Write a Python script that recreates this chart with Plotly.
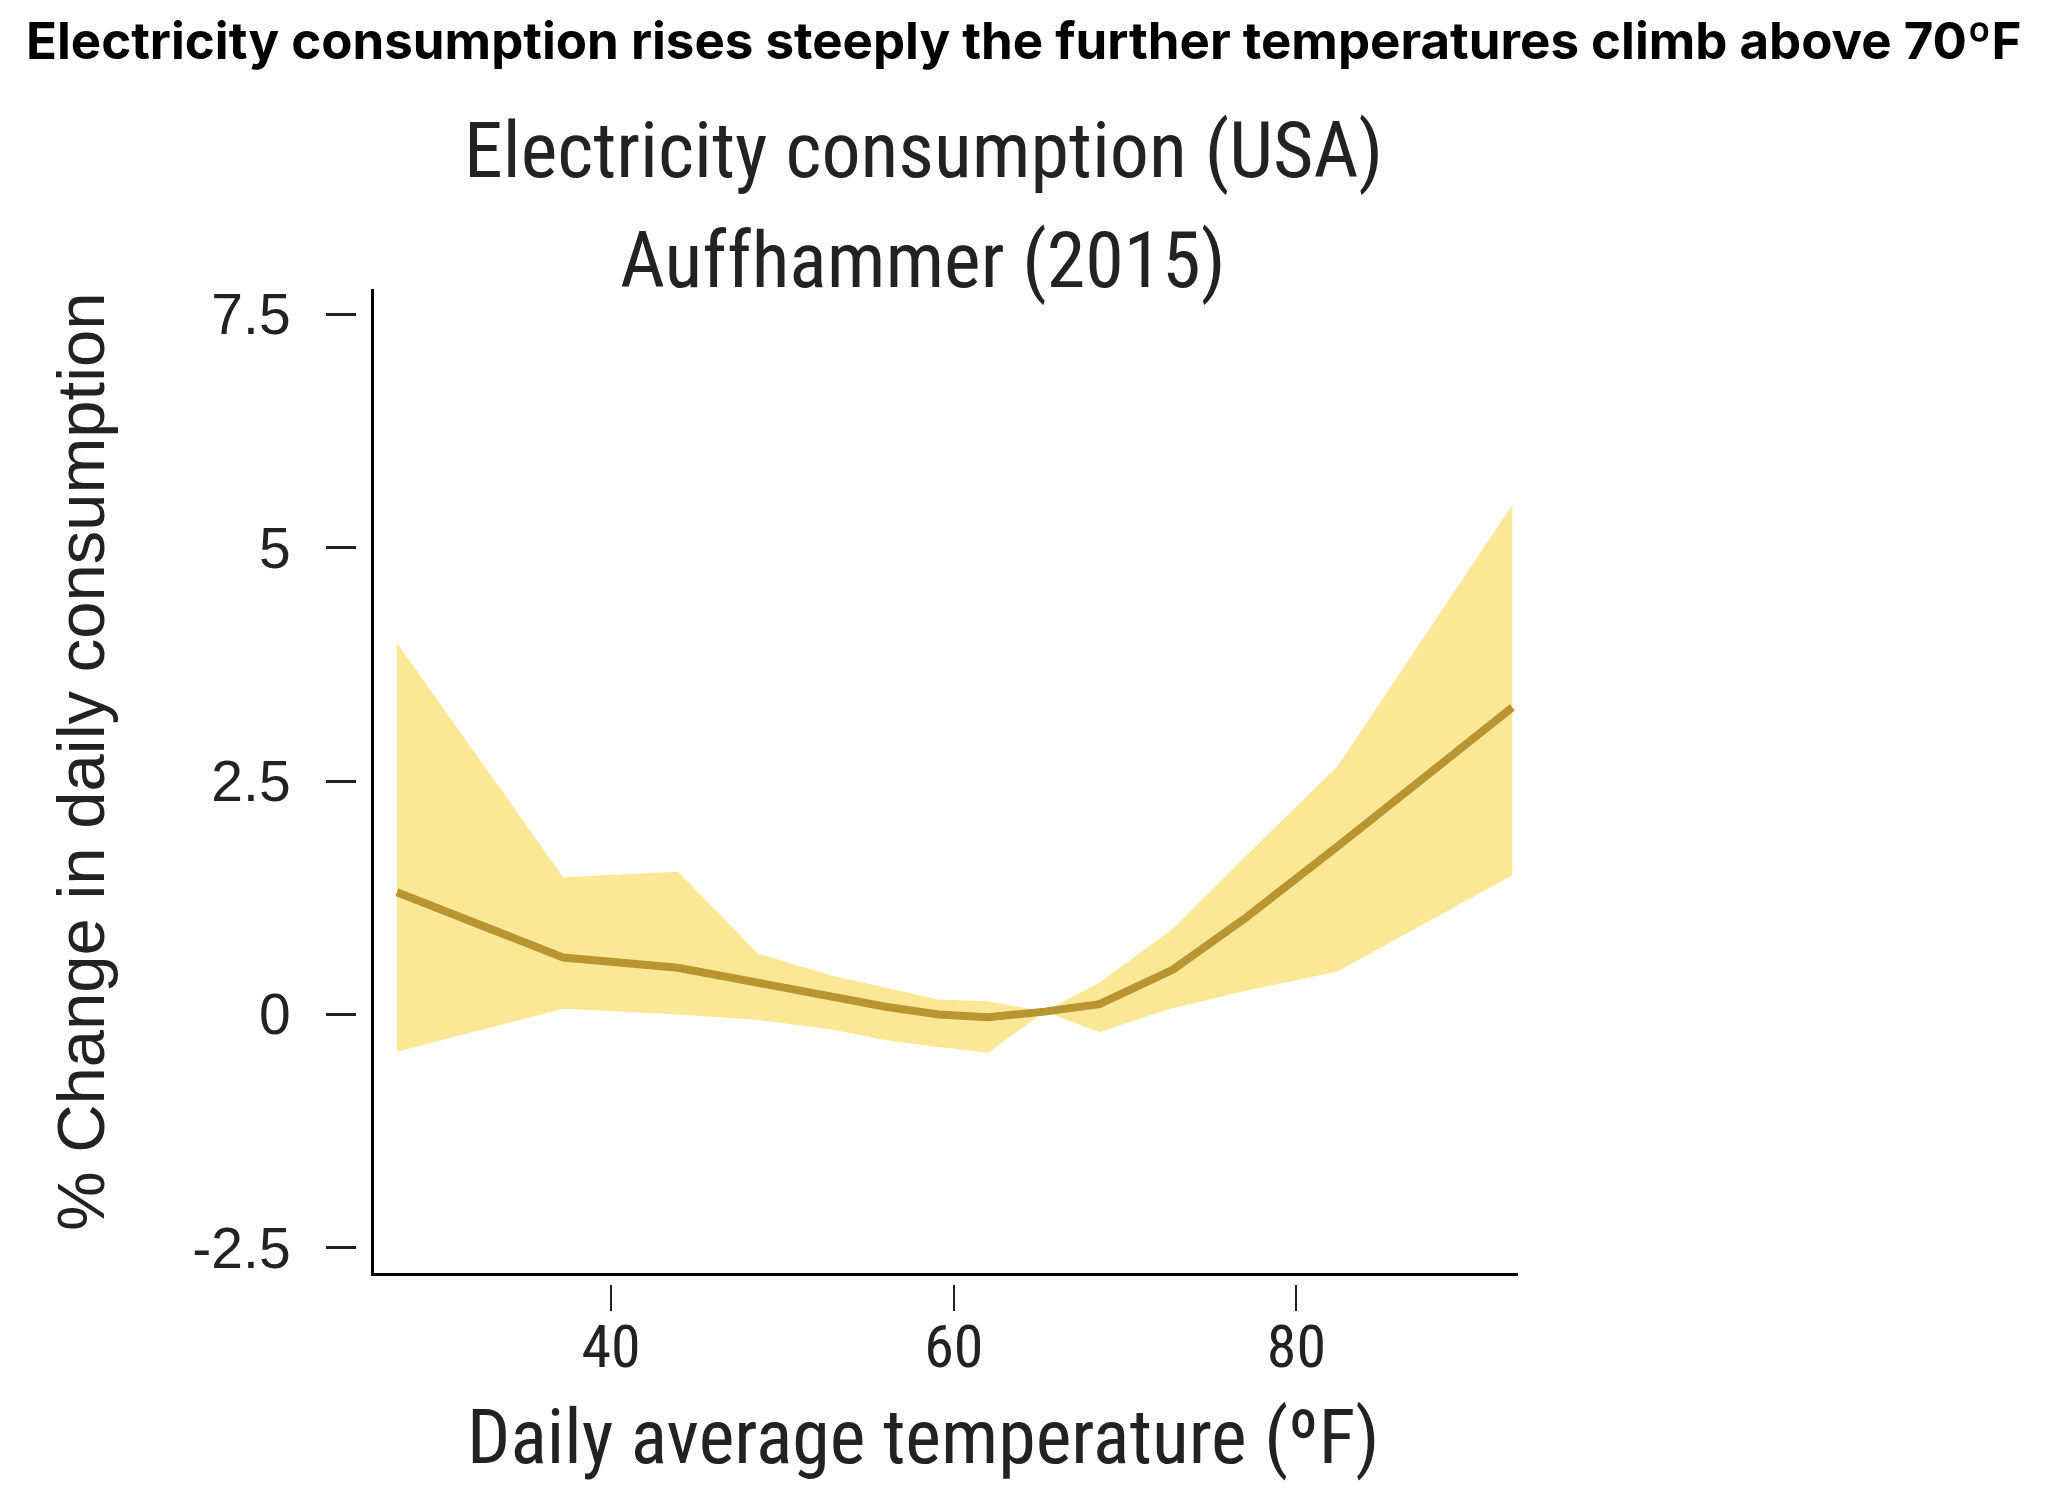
import plotly.graph_objects as go

# values
temp_f = [27.5, 37.2, 43.9, 48.6, 52.8, 56.1, 59.1, 62.0, 65.3, 68.5, 72.8, 77.0, 82.4, 92.6]
change_est = [1.31, 0.61, 0.50, 0.33, 0.19, 0.08, 0.00, -0.03, 0.03, 0.11, 0.48, 1.03, 1.80, 3.29]
change_upper = [3.98, 1.47, 1.53, 0.65, 0.42, 0.28, 0.16, 0.14, 0.03, 0.34, 0.92, 1.69, 2.66, 5.46]
change_lower = [-0.40, 0.06, 0.00, -0.06, -0.16, -0.28, -0.35, -0.41, 0.03, -0.19, 0.07, 0.25, 0.46, 1.49]

x_ticks = [40, 60, 80]
y_ticks = [-2.5, 0, 2.5, 5, 7.5]
y_tick_text = ["-2.5", "0", "2.5", "5", "7.5"]

x_range = [26.16, 92.93]
y_range = [-2.775, 7.77]

W, H = 2050, 1510
narrow = "Liberation Sans Narrow, Roboto Condensed, DejaVu Sans Condensed, Arial Narrow, sans-serif"
regular = "Liberation Sans, Arial, sans-serif"

fig = go.Figure()

# confidence band
fig.add_trace(go.Scatter(x=temp_f, y=change_lower, mode="lines",
                         line=dict(width=0, color="#FBE896"),
                         showlegend=False, hoverinfo="skip"))
fig.add_trace(go.Scatter(x=temp_f, y=change_upper, mode="lines",
                         line=dict(width=0, color="#FBE896"),
                         fill="tonexty", fillcolor="#FBE896",
                         showlegend=False, hoverinfo="skip"))
# point estimate
fig.add_trace(go.Scatter(x=temp_f, y=change_est, mode="lines",
                         line=dict(width=8, color="#B8952F"),
                         xaxis="x2", yaxis="y2",
                         showlegend=False))

x_dom = [366 / W, 1510 / W]
y_dom = [1 - 1269.3 / H, 1 - 276.7 / H]

fig.update_layout(
    width=W, height=H,
    margin=dict(l=0, r=0, t=0, b=0),
    paper_bgcolor="white", plot_bgcolor="white",
    xaxis=dict(domain=x_dom, range=x_range, showline=True, linecolor="black",
               linewidth=2.5, ticks="", showticklabels=False,
               showgrid=False, zeroline=False),
    yaxis=dict(domain=y_dom, range=y_range, showline=True, linecolor="black",
               linewidth=2.5, ticks="", showticklabels=False,
               showgrid=False, zeroline=False),
    # detached tick marks sit on free axes a bit outside the frame
    xaxis2=dict(overlaying="x", anchor="free", position=1 - 1280 / H,
                range=x_range, showline=False, showgrid=False, zeroline=False,
                ticks="outside", ticklen=26, tickwidth=1.5, tickcolor="#222",
                tickvals=x_ticks, ticklabelstandoff=-16,
                tickfont=dict(family=narrow, size=60, color="#222")),
    yaxis2=dict(overlaying="y", anchor="free", position=348 / W,
                range=y_range, showline=False, showgrid=False, zeroline=False,
                ticks="outside", ticklen=30, tickwidth=2.5, tickcolor="#222",
                tickvals=y_ticks, ticktext=y_tick_text, ticklabelstandoff=24,
                tickfont=dict(family=regular, size=57, color="#222")),
)

fig.add_annotation(text="<b>Electricity consumption rises steeply the further temperatures climb above 70ºF</b>",
                   x=16 / W, y=1 - 26 / H, xref="paper", yref="paper",
                   xanchor="left", yanchor="middle", showarrow=False,
                   font=dict(family="Inter, Roboto, sans-serif", size=51, color="black"))
fig.add_annotation(text="Electricity consumption (USA)", x=915 / W, y=1 - 136.5 / H,
                   xref="paper", yref="paper", xanchor="center", yanchor="middle",
                   showarrow=False, font=dict(family=narrow, size=78, color="#222"))
fig.add_annotation(text="Auffhammer (2015)", x=915 / W, y=1 - 248 / H,
                   xref="paper", yref="paper", xanchor="center", yanchor="middle",
                   showarrow=False, font=dict(family=narrow, size=78, color="#222"))
fig.add_annotation(text="Daily average temperature (ºF)", x=915 / W, y=1 - 1434.5 / H,
                   xref="paper", yref="paper", xanchor="center", yanchor="middle",
                   showarrow=False, font=dict(family=narrow, size=76, color="#222"))
fig.add_annotation(text="% Change in daily consumption", x=72 / W, y=1 - 753.5 / H,
                   xref="paper", yref="paper", xanchor="center", yanchor="middle",
                   textangle=-90, showarrow=False,
                   font=dict(family=regular, size=67, color="#222"))

fig.write_html("out.html")
